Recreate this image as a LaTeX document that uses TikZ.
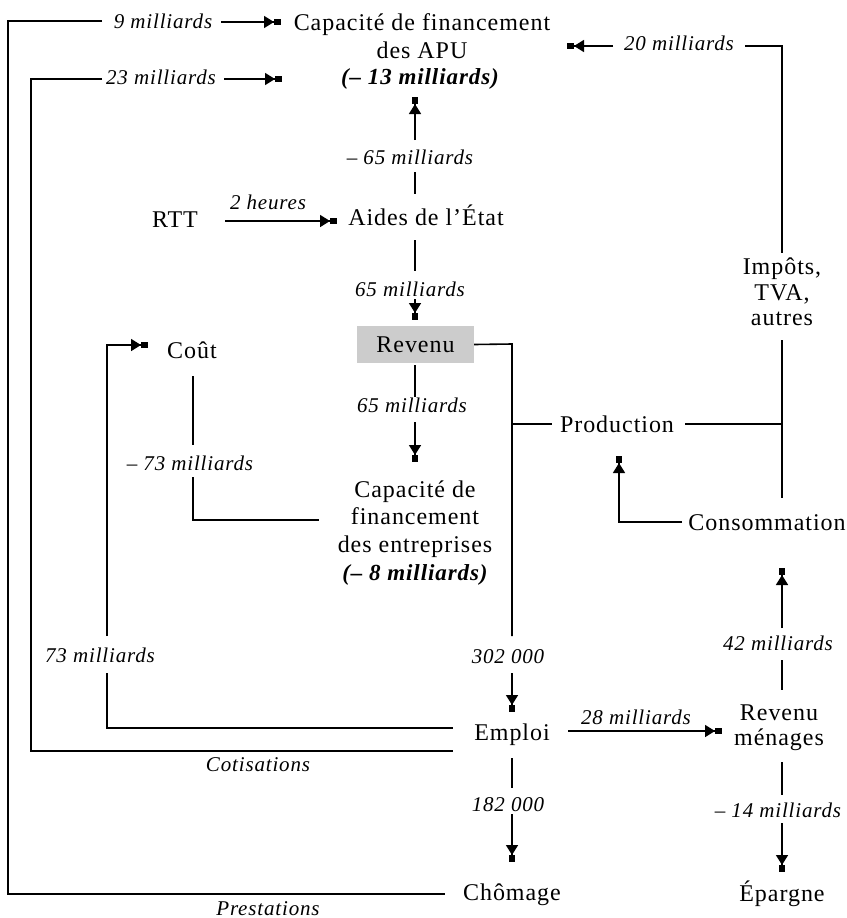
\documentclass[tikz,border=0pt]{standalone}
\usepackage{fontspec}
\setmainfont{Liberation Serif}[LetterSpace=4]
\usetikzlibrary{arrows.meta}
\tikzset{
  txt/.style={font=\fontsize{24}{27}\selectfont, inner sep=0pt, anchor=base},
  bix/.style={font=\fontsize{23}{27}\selectfont\bfseries\itshape, inner sep=0pt, anchor=base},
  lbl/.style={font=\fontsize{21}{24}\selectfont\itshape, inner sep=0pt, anchor=base},
  ln/.style={line width=1.6pt},
  arr/.style={ln, -{Triangle[length=10pt,width=12pt]Rectangle[length=7pt,width=6pt]}},
}
\begin{document}
\begin{tikzpicture}[x=1pt,y=-1pt]
\useasboundingbox (0,0) rectangle (846,918);
% ---- text nodes
\node[txt] (apu1) at (422,30) {Capacité de financement};
\node[txt] (apu2) at (422,58) {des APU};
\node[bix] (apu3) at (420,84) {(– 13 milliards)};
\node[lbl] (l9) at (163,28) {9 milliards};
\node[lbl] (l23) at (161,84) {23 milliards};
\node[lbl] (l20) at (679,50) {20 milliards};
\node[lbl] (lm65) at (410,164) {– 65 milliards};
\node[txt] (rtt) at (175,227) {RTT};
\node[lbl] (l2h) at (268,209) {2 heures};
\node[txt] (aides) at (426,225) {Aides de l’État};
\node[lbl] (l65a) at (410,296) {65 milliards};
\node[draw=none, fill=black!20, minimum width=117pt, minimum height=37pt, inner sep=0pt,
      font=\fontsize{24}{27}\selectfont] (revenu) at (415.5,344.5) {Revenu};
\node[lbl] (l65b) at (412,412) {65 milliards};
\node[txt] (cfe1) at (415,497) {Capacité de};
\node[txt] (cfe2) at (415,524) {financement};
\node[txt] (cfe3) at (415,552) {des entreprises};
\node[bix] (cfe4) at (415,580) {(– 8 milliards)};
\node[txt] (cout) at (192,358) {Coût};
\node[lbl] (lm73) at (190,470) {– 73 milliards};
\node[txt] (prod) at (617,432) {Production};
\node[txt] (imp1) at (782,274) {Impôts,};
\node[txt] (imp2) at (782,300) {TVA,};
\node[txt] (imp3) at (782,325) {autres};
\node[txt] (conso) at (767,530) {Consommation};
\node[lbl] (l42) at (778,650) {42 milliards};
\node[txt] (rm1) at (779,720) {Revenu};
\node[txt] (rm2) at (779,745) {ménages};
\node[lbl] (l73) at (100,662) {73 milliards};
\node[lbl] (l302) at (508,663) {302 000};
\node[txt] (emploi) at (512,740) {Emploi};
\node[lbl] (l28) at (636,724) {28 milliards};
\node[lbl] (cot) at (258,771) {Cotisations};
\node[lbl] (l182) at (508,811) {182 000};
\node[lbl] (lm14) at (778,817) {– 14 milliards};
\node[txt] (chom) at (512,900) {Chômage};
\node[txt] (epar) at (782,901) {Épargne};
\node[lbl] (prest) at (268,915) {Prestations};
% ---- coordinates
\coordinate (o1) at (102,21);   \coordinate (o2) at (8,21);
\coordinate (o3) at (8,894);    \coordinate (o4) at (445,894);
\coordinate (a9s) at (221,22);  \coordinate (a9e) at (281,22);
\coordinate (c1) at (102,79);   \coordinate (c2) at (31,79);
\coordinate (c3) at (31,751);   \coordinate (c4) at (453,751);
\coordinate (a23s) at (224,79); \coordinate (a23e) at (282,79);
\coordinate (a20s) at (613,46); \coordinate (a20e) at (567,46);
\coordinate (r1) at (745,46);   \coordinate (r2) at (782,46);
\coordinate (r3) at (782,253);  \coordinate (r4) at (782,340);
\coordinate (r5) at (782,498);  \coordinate (p3) at (685,424);
\coordinate (r6) at (782,424);
\coordinate (m1) at (415,140);  \coordinate (m2) at (415,97);
\coordinate (m3) at (415,172);  \coordinate (m4) at (415,194);
\coordinate (m5) at (415,240);  \coordinate (m6) at (415,271);
\coordinate (m7) at (415,299);  \coordinate (m8) at (415,320);
\coordinate (m9) at (415,365);  \coordinate (m10) at (415,397);
\coordinate (m11) at (415,422); \coordinate (m12) at (415,462);
\coordinate (t1) at (225,221);  \coordinate (t2) at (337,221);
\coordinate (e1) at (512,344);  \coordinate (e2) at (512,636);
\coordinate (e3) at (512,424);  \coordinate (e4) at (552,424);
\coordinate (e5) at (512,673);  \coordinate (e6) at (512,712);
\coordinate (k1) at (107,636);  \coordinate (k2) at (107,345);
\coordinate (k3) at (148,345);  \coordinate (k4) at (107,673);
\coordinate (k5) at (107,728);  \coordinate (k6) at (453,728);
\coordinate (d1) at (193,376);  \coordinate (d2) at (193,445);
\coordinate (d3) at (193,477);  \coordinate (d4) at (193,520);
\coordinate (d5) at (319,520);
\coordinate (n1) at (682,522);  \coordinate (n2) at (619,522);
\coordinate (n3) at (619,456);
\coordinate (u1) at (782,628);  \coordinate (u2) at (782,568);
\coordinate (u3) at (782,660);  \coordinate (u4) at (782,690);
\coordinate (h1) at (568,731);  \coordinate (h2) at (722,731);
\coordinate (s1) at (782,762);  \coordinate (s2) at (782,795);
\coordinate (s3) at (782,823);  \coordinate (s4) at (782,872);
\coordinate (j1) at (512,758);  \coordinate (j2) at (512,788);
\coordinate (j3) at (512,814);  \coordinate (j4) at (512,862);
% ---- connectors
\draw[ln] (o1) -- (o2) -- (o3) -- (o4);
\draw[arr] (a9s) -- (a9e);
\draw[ln] (c1) -- (c2) -- (c3) -- (c4);
\draw[arr] (a23s) -- (a23e);
\draw[arr] (a20s) -- (a20e);
\draw[ln] (r1) -- (r2) -- (r3);
\draw[ln] (r4) -- (r5);
\draw[ln] (p3) -- (r6);
\draw[arr] (m1) -- (m2);
\draw[ln] (m3) -- (m4);
\draw[ln] (m5) -- (m6);
\draw[arr] (m7) -- (m8);
\draw[ln] (m9) -- (m10);
\draw[arr] (m11) -- (m12);
\draw[arr] (t1) -- (t2);
\draw[ln] (revenu.east) -- (e1) -- (e2);
\draw[ln] (e3) -- (e4);
\draw[arr] (e5) -- (e6);
\draw[arr] (k1) -- (k2) -- (k3);
\draw[ln] (k4) -- (k5) -- (k6);
\draw[ln] (d1) -- (d2);
\draw[ln] (d3) -- (d4) -- (d5);
\draw[arr] (n1) -- (n2) -- (n3);
\draw[arr] (u1) -- (u2);
\draw[ln] (u3) -- (u4);
\draw[arr] (h1) -- (h2);
\draw[ln] (s1) -- (s2);
\draw[arr] (s3) -- (s4);
\draw[ln] (j1) -- (j2);
\draw[arr] (j3) -- (j4);
\end{tikzpicture}
\end{document}
